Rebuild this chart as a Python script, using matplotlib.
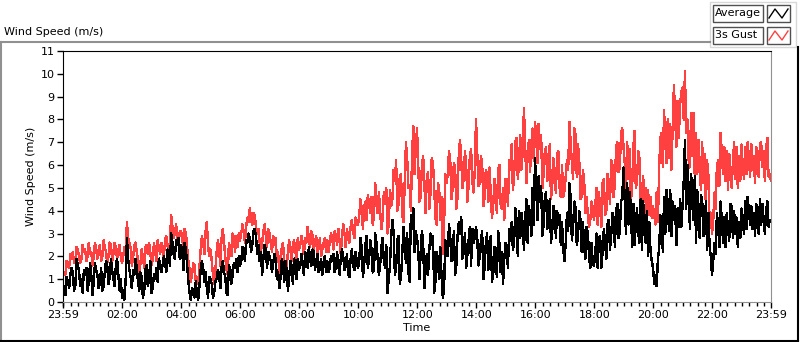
import numpy as np
import matplotlib
matplotlib.use("Agg")
import matplotlib.pyplot as plt
from matplotlib.lines import Line2D
from matplotlib.patches import Rectangle

# 2.5-minute samples, 23:59 -> 23:59 (24 per hour + end point)
average = [
    0.8, 0.5, 0.3, 1.1, 0.9, 0.6, 1.2, 1.5, 1.3, 0.5, 0.7, 1.9, 1.6, 1.4, 0.7, 1.0, 0.4, 1.4, 1.2, 1.5, 0.5, 0.9, 1.7, 1.2,
    0.3, 0.9, 1.7, 1.4, 1.2, 0.6, 0.8, 1.5, 0.5, 0.7, 1.3, 1.8, 1.6, 0.8, 1.1, 1.9, 1.4, 1.0, 0.7, 1.6, 1.9, 1.2, 0.5, 1.0,
    0.2, 0.5, 0.1, 1.0, 2.8, 1.9, 1.4, 1.1, 0.6, 1.4, 1.2, 1.9, 1.5, 0.9, 0.5, 1.3, 1.1, 0.2, 0.4, 1.4, 1.6, 0.7, 1.0, 1.8,
    0.4, 0.6, 1.2, 1.0, 1.5, 0.9, 1.9, 1.7, 1.3, 1.6, 2.0, 1.8, 1.3, 2.3, 2.0, 1.6, 3.0, 2.6, 2.1, 1.9, 2.7, 2.5, 2.8, 1.9,
    2.5, 2.2, 1.4, 2.6, 2.3, 1.6, 0.9, 0.4, 0.1, 0.6, 0.5, 0.2, 0.9, 0.3, 0.1, 0.7, 1.4, 1.8, 1.5, 0.9, 1.3, 0.6, 0.2, 1.1,
    1.0, 0.8, 0.2, 0.4, 0.9, 1.0, 1.4, 1.2, 0.6, 1.5, 1.8, 1.3, 1.1, 0.4, 0.3, 1.6, 1.5, 0.8, 1.2, 1.7, 1.5, 1.9, 1.3, 2.0,
    1.6, 1.8, 2.4, 2.2, 1.8, 2.7, 2.6, 3.0, 2.8, 2.2, 2.5, 3.1, 3.2, 2.9, 2.1, 2.5, 1.8, 2.2, 1.2, 1.9, 2.5, 2.3, 1.5, 2.2,
    2.0, 1.8, 1.3, 1.7, 2.1, 1.9, 1.0, 1.3, 0.6, 1.1, 1.9, 1.6, 0.9, 1.8, 1.4, 0.5, 1.1, 1.8, 1.6, 0.8, 1.9, 1.7, 1.0, 1.9,
    1.4, 1.6, 2.1, 1.6, 1.2, 2.2, 2.0, 1.5, 2.4, 1.9, 1.6, 2.3, 2.2, 1.4, 1.8, 2.1, 1.3, 1.5, 1.9, 1.2, 1.7, 2.0, 1.3, 1.8,
    1.3, 1.5, 2.0, 1.8, 2.1, 1.3, 1.5, 2.2, 1.6, 1.2, 1.9, 2.3, 2.0, 1.4, 1.6, 2.1, 1.2, 1.1, 1.9, 2.3, 1.6, 1.4, 2.2, 1.8,
    1.5, 1.8, 2.8, 2.4, 1.1, 1.6, 2.5, 2.9, 1.5, 1.9, 2.7, 2.3, 1.3, 1.4, 3.0, 2.6, 1.9, 1.2, 1.6, 2.4, 2.8, 1.8, 1.5, 2.5,
    0.4, 1.0, 1.6, 2.9, 3.6, 3.0, 1.2, 1.5, 2.7, 2.9, 0.8, 1.1, 2.1, 3.3, 2.6, 1.7, 3.0, 1.3, 0.9, 3.8, 3.2, 4.1, 2.2, 3.1,
    2.8, 2.3, 1.0, 2.2, 3.1, 2.6, 0.6, 1.4, 2.1, 1.2, 2.3, 3.0, 2.5, 2.9, 0.4, 0.9, 2.2, 1.9, 1.0, 2.4, 1.1, 0.2, 0.5, 2.7,
    2.4, 2.0, 3.4, 2.9, 1.8, 2.2, 3.1, 1.2, 1.6, 2.9, 3.5, 3.0, 3.7, 1.9, 2.4, 3.0, 1.5, 2.1, 2.7, 3.3, 1.6, 3.2, 2.6, 2.8,
    3.3, 2.8, 1.6, 2.0, 2.7, 3.1, 1.0, 1.5, 2.6, 3.0, 1.4, 2.1, 2.9, 0.9, 1.2, 2.4, 1.8, 1.1, 3.1, 2.6, 1.3, 2.2, 0.8, 1.9,
    2.6, 2.1, 1.5, 3.2, 2.7, 3.5, 2.3, 2.6, 4.1, 3.6, 2.0, 4.0, 2.8, 3.9, 3.4, 2.3, 3.6, 4.5, 2.6, 4.2, 3.8, 2.9, 5.0, 3.4,
    6.3, 5.0, 3.6, 5.5, 4.4, 5.1, 2.9, 3.4, 4.6, 4.8, 3.2, 3.7, 4.5, 2.6, 3.1, 4.2, 3.9, 2.8, 4.0, 3.4, 3.8, 2.5, 3.5, 2.3,
    1.8, 2.6, 3.9, 3.1, 5.2, 4.6, 2.7, 3.3, 4.4, 4.1, 2.5, 2.9, 4.0, 3.6, 2.2, 3.5, 2.4, 1.9, 3.3, 3.0, 2.0, 1.5, 2.6, 1.7,
    1.6, 2.1, 3.0, 1.5, 2.8, 2.9, 1.5, 2.2, 3.2, 2.6, 1.9, 3.4, 3.6, 2.3, 2.9, 3.9, 3.7, 2.4, 4.0, 4.3, 2.8, 3.1, 4.4, 4.6,
    5.9, 4.4, 3.0, 5.2, 3.4, 4.8, 4.2, 2.4, 4.3, 2.5, 3.4, 4.1, 3.0, 2.6, 4.5, 2.3, 4.4, 3.2, 2.6, 4.0, 2.0, 3.5, 2.2, 1.8,
    1.5, 0.8, 1.2, 0.7, 1.9, 2.3, 3.8, 3.4, 2.2, 4.6, 3.0, 4.9, 4.3, 3.1, 4.9, 2.9, 4.4, 3.6, 4.2, 2.5, 4.1, 3.3, 4.5, 3.3,
    4.2, 5.3, 7.1, 4.1, 6.0, 5.0, 3.2, 5.6, 4.8, 3.6, 5.5, 2.6, 4.9, 3.8, 2.8, 4.7, 4.5, 2.9, 3.2, 4.4, 2.3, 3.9, 2.5, 2.0,
    1.2, 1.8, 2.6, 2.1, 3.9, 3.3, 2.4, 4.4, 3.6, 2.6, 3.7, 2.4, 3.9, 3.2, 2.7, 4.3, 4.2, 2.8, 4.0, 3.0, 3.7, 2.4, 3.5, 2.8,
    4.1, 3.6, 3.0, 4.4, 3.2, 4.6, 4.0, 3.4, 4.2, 3.2, 3.9, 2.9, 4.3, 3.8, 3.0, 4.5, 3.4, 4.3, 3.6, 3.0, 4.0, 4.4, 3.3, 3.6,
    3.6,
]
gust = [
    1.1, 1.3, 1.2, 1.8, 1.6, 1.5, 2.1, 1.9, 2.2, 1.7, 1.8, 2.4, 2.3, 2.0, 1.7, 1.9, 2.5, 2.2, 2.3, 1.8, 2.0, 2.6, 2.1, 2.2,
    1.6, 2.0, 2.6, 2.3, 1.9, 2.3, 2.5, 1.8, 2.0, 2.7, 2.4, 2.2, 1.7, 2.0, 2.6, 2.5, 1.8, 2.1, 2.6, 2.4, 1.9, 2.3, 2.5, 2.0,
    1.7, 2.0, 2.4, 2.2, 3.5, 2.8, 2.6, 2.4, 1.6, 1.9, 2.5, 2.6, 2.2, 1.8, 1.3, 1.7, 2.3, 2.0, 1.5, 2.4, 2.5, 2.1, 2.6, 2.2,
    1.6, 1.9, 2.6, 2.2, 1.8, 2.7, 2.4, 2.1, 2.6, 2.3, 1.9, 2.7, 2.9, 2.5, 2.2, 2.6, 3.8, 3.3, 2.8, 3.0, 3.4, 2.9, 2.5, 3.1,
    3.1, 2.8, 2.3, 3.2, 3.0, 2.4, 1.8, 1.4, 0.9, 1.2, 1.7, 1.6, 0.9, 1.1, 0.8, 1.5, 2.3, 2.9, 2.6, 2.1, 3.1, 3.5, 2.5, 2.0,
    2.3, 1.8, 1.2, 0.8, 1.4, 2.2, 2.7, 2.3, 1.6, 2.8, 3.2, 2.6, 2.0, 1.4, 1.2, 2.6, 2.3, 2.0, 3.0, 2.8, 2.2, 2.9, 2.4, 3.0,
    2.7, 3.0, 3.4, 3.1, 2.6, 3.3, 3.7, 3.5, 4.1, 3.6, 3.4, 3.9, 3.8, 3.3, 3.0, 3.2, 2.6, 2.2, 2.6, 3.1, 3.4, 2.9, 2.4, 3.2,
    3.0, 2.6, 2.2, 2.9, 2.5, 2.8, 1.9, 2.2, 1.2, 1.6, 2.4, 2.6, 1.7, 1.1, 1.5, 2.2, 2.7, 2.3, 1.8, 2.5, 2.7, 2.2, 1.9, 2.8,
    2.3, 2.5, 2.9, 2.6, 2.1, 2.8, 2.6, 3.3, 2.8, 2.4, 3.1, 2.9, 2.3, 2.6, 2.9, 2.1, 2.4, 2.8, 2.0, 2.3, 2.6, 2.8, 2.2, 2.7,
    2.2, 2.6, 3.0, 2.8, 2.3, 3.1, 2.9, 2.5, 3.2, 2.7, 2.1, 2.9, 3.4, 3.0, 2.4, 3.2, 2.8, 2.6, 3.3, 3.6, 3.1, 2.8, 3.7, 3.4,
    3.4, 3.8, 4.5, 4.1, 3.2, 4.2, 4.4, 3.6, 4.7, 4.3, 3.9, 4.6, 3.4, 3.8, 5.2, 4.5, 3.9, 4.8, 4.0, 3.2, 3.6, 4.8, 4.3, 5.0,
    3.0, 3.4, 4.9, 4.2, 4.5, 5.8, 5.3, 6.2, 4.0, 4.3, 5.5, 5.6, 3.8, 3.5, 5.2, 7.0, 6.3, 5.0, 5.1, 4.0, 6.5, 7.7, 5.6, 6.8,
    7.6, 6.0, 4.4, 4.6, 6.0, 6.4, 5.2, 3.9, 5.5, 5.7, 4.1, 4.8, 6.3, 6.1, 5.0, 3.7, 3.4, 5.2, 5.0, 3.6, 4.6, 2.1, 3.3, 5.6,
    5.2, 5.6, 6.6, 6.3, 4.5, 5.0, 6.1, 5.9, 4.1, 4.6, 6.5, 7.1, 6.2, 5.0, 5.4, 6.6, 6.0, 4.4, 5.1, 6.4, 6.7, 5.3, 4.8, 5.8,
    8.0, 6.5, 5.1, 5.2, 6.4, 6.1, 4.2, 4.6, 5.8, 5.6, 4.4, 5.9, 4.7, 3.7, 4.2, 5.4, 4.6, 3.9, 5.8, 6.0, 4.3, 4.1, 5.0, 3.6,
    5.4, 5.0, 4.2, 6.2, 5.8, 6.9, 4.9, 5.5, 7.0, 7.2, 5.4, 6.1, 7.3, 5.8, 6.6, 8.5, 6.9, 5.2, 6.4, 7.1, 5.7, 6.9, 7.6, 6.2,
    7.9, 7.2, 6.1, 7.8, 6.7, 7.3, 5.0, 5.6, 6.6, 6.8, 5.3, 5.9, 6.9, 4.5, 5.1, 6.3, 5.4, 4.8, 6.5, 6.6, 5.0, 4.6, 6.0, 4.6,
    4.9, 5.5, 6.2, 5.8, 7.9, 7.0, 6.1, 5.4, 7.6, 7.3, 5.5, 6.9, 6.2, 4.5, 4.6, 5.8, 5.3, 3.9, 4.6, 3.8, 3.3, 3.6, 4.4, 4.1,
    3.6, 4.2, 5.0, 3.4, 4.8, 4.1, 3.3, 5.2, 5.4, 3.8, 4.0, 5.6, 5.1, 4.3, 6.2, 6.0, 4.6, 5.2, 6.8, 7.0, 5.7, 5.9, 7.4, 7.6,
    6.8, 6.1, 5.0, 7.0, 5.4, 6.7, 4.4, 5.0, 6.8, 7.5, 5.0, 5.3, 6.6, 6.3, 4.2, 4.8, 5.5, 4.4, 5.0, 3.7, 4.9, 3.8, 4.6, 3.7,
    4.2, 3.8, 3.4, 4.8, 3.5, 5.9, 7.2, 7.4, 5.9, 8.4, 7.0, 6.1, 8.0, 6.3, 7.8, 5.8, 7.6, 9.5, 8.2, 6.8, 8.8, 7.2, 8.6, 9.2,
    9.4, 8.0, 10.1, 7.4, 8.0, 6.2, 5.9, 8.3, 6.4, 8.3, 5.4, 7.4, 5.6, 7.1, 6.0, 4.9, 7.0, 5.2, 6.5, 4.2, 6.2, 5.6, 3.6, 3.9,
    3.0, 3.6, 4.8, 4.1, 6.0, 6.2, 5.1, 7.4, 6.5, 5.6, 6.8, 5.3, 6.6, 4.9, 6.5, 5.8, 5.0, 6.1, 7.0, 5.4, 6.8, 5.0, 6.4, 5.3,
    6.9, 6.0, 5.4, 6.8, 5.6, 7.0, 6.3, 5.5, 6.9, 5.8, 6.4, 5.2, 6.8, 6.1, 5.5, 6.9, 7.0, 5.9, 6.6, 5.3, 6.7, 7.2, 5.5, 5.6,
    5.3,
]
tick_labels = ["23:59", "02:00", "04:00", "06:00", "08:00", "10:00", "12:00",
               "14:00", "16:00", "18:00", "20:00", "22:00", "23:59"]
tick_minutes = [0, 121, 241, 361, 481, 601, 721, 841, 961, 1081, 1201, 1321, 1440]

# minutes since 23:59, evenly spread over the day
t_avg = np.linspace(0, 1440, len(average))
t_gust = np.linspace(0, 1440, len(gust))

plt.rcParams['font.family'] = ['DejaVu Sans']
fig = plt.figure(figsize=(8, 3.42), dpi=100)
W, H = 800, 342

def fx(px):
    return px / W

def fy(py):
    return 1 - py / H

ax = fig.add_axes([fx(63), fy(302), fx(771) - fx(63), fy(51) - fy(302)])
ax.plot(t_gust, gust, color='#ff4040', lw=1, antialiased=False)
ax.plot(t_avg, average, color='black', lw=1, antialiased=False)
ax.set_xlim(0, 1440)
ax.set_ylim(0, 11)
ax.set_yticks(range(0, 12))
ax.set_xticks(tick_minutes)
ax.set_xticklabels(tick_labels)
ax.set_xticks(np.arange(121 - 15 * 8, 1440, 15), minor=True)
ax.tick_params(axis='both', which='major', labelsize=8, length=4, width=1,
               color='black', direction='out', pad=2)
ax.tick_params(axis='x', which='minor', length=3, width=1, color='black')
for s in ['left', 'top']:
    ax.spines[s].set_color('black')
for s in ['right', 'bottom']:
    ax.spines[s].set_color('#909090')
ax.set_ylabel("Wind Speed (m/s)", fontsize=8, labelpad=3)
ax.set_xlabel("Time", fontsize=8, labelpad=2)

# outer panel frame
fig.add_artist(Line2D([fx(0), fx(710)], [fy(42), fy(42)], color='#909090', lw=1.5))
fig.add_artist(Line2D([fx(0.5), fx(0.5)], [fy(42), fy(341)], color='#909090', lw=1.5))
fig.add_artist(Line2D([fx(0), fx(798)], [fy(340.5), fy(340.5)], color='black', lw=1.5))
fig.add_artist(Line2D([fx(797.5), fx(797.5)], [fy(47), fy(341)], color='black', lw=1.5))
fig.text(fx(4), fy(32), "Wind Speed (m/s)", fontsize=8, va='center', ha='left')

# legend panel
fig.add_artist(Rectangle((fx(710), fy(47)), fx(86), fy(2) - fy(47),
                         facecolor='white', edgecolor='#d8d8d8', lw=1))
for i, (name, col) in enumerate([("Average", 'black'), ("3s Gust", '#ff4040')]):
    top = 5 + i * 22
    fig.add_artist(Rectangle((fx(713), fy(top + 17)), fx(50), fy(top) - fy(top + 17),
                             facecolor='white', edgecolor='#505050', lw=1))
    fig.text(fx(715), fy(top + 8.5), name, fontsize=8, va='center', ha='left')
    fig.add_artist(Rectangle((fx(767), fy(top + 17)), fx(23), fy(top) - fy(top + 17),
                             facecolor='white', edgecolor='#505050', lw=1))
    zx = [769, 775, 782, 788]
    zy = [top + 13, top + 4, top + 13, top + 4]
    fig.add_artist(Line2D([fx(v) for v in zx], [fy(v) for v in zy], color=col, lw=1))

fig.savefig("out.png", dpi=100)
